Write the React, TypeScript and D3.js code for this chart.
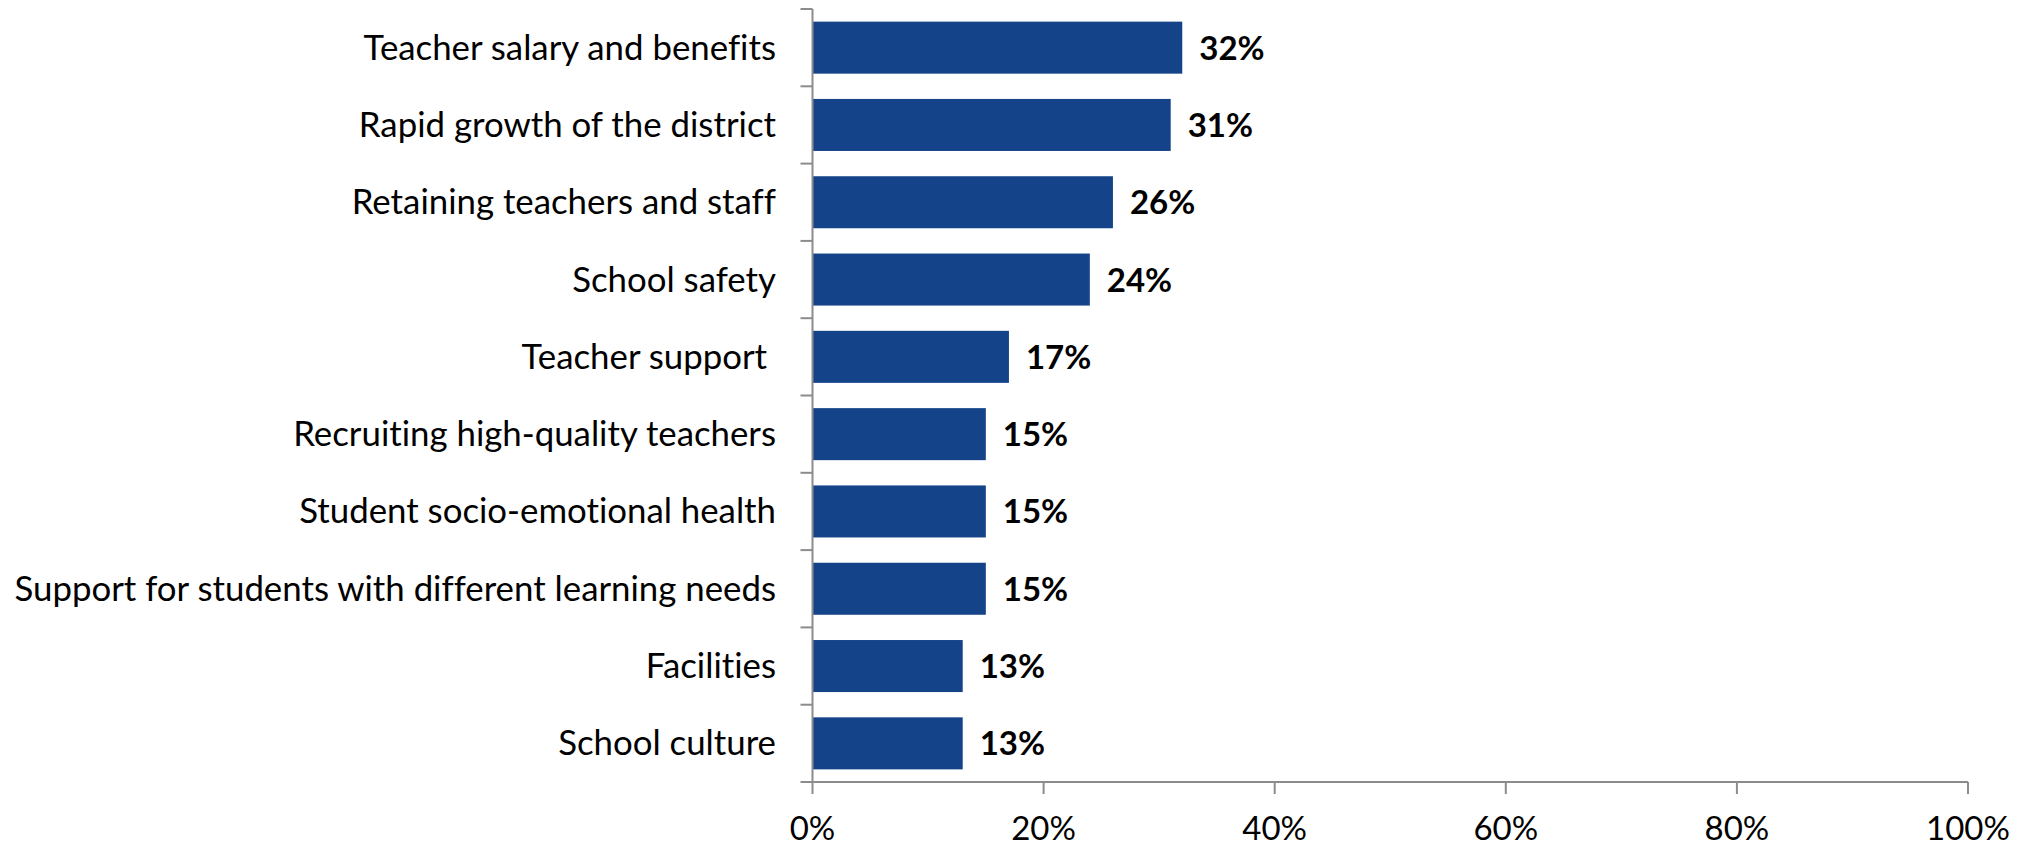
import React from "react";
import * as d3 from "d3";

const categories = [
  "Teacher salary and benefits",
  "Rapid growth of the district",
  "Retaining teachers and staff",
  "School safety",
  "Teacher support ",
  "Recruiting high-quality teachers",
  "Student socio-emotional health",
  "Support for students with different learning needs",
  "Facilities",
  "School culture",
];
const values = [32, 31, 26, 24, 17, 15, 15, 15, 13, 13];
const xTicks = [0, 20, 40, 60, 80, 100];

const W = 2028;
const H = 846;
const left = 812.5;
const right = 1968;
const top = 9;
const bottom = 782;
const FONT = "Lato, 'Liberation Sans', sans-serif";
const BAR = "#144389";
const AXIS = "#8c8c8c";

export default function App() {
  const x = d3.scaleLinear().domain([0, 100]).range([left, right]);
  const y = d3
    .scaleBand<string>()
    .domain(categories)
    .range([top, bottom])
    .paddingInner(0.327)
    .paddingOuter(0.1635);
  const step = y.step();
  const bounds = d3.range(categories.length + 1).map((i) => top + i * step);

  return (
    <svg
      width={W}
      height={H}
      style={{ position: "absolute", left: 0, top: 0, background: "#fff", fontVariantLigatures: "none" }}
      fontFamily={FONT}
    >
      {categories.map((c, i) => (
        <rect
          key={c}
          x={x(0)}
          y={y(c)!}
          width={x(values[i]) - x(0)}
          height={y.bandwidth()}
          fill={BAR}
        />
      ))}
      <line x1={left} x2={left} y1={top} y2={bottom} stroke={AXIS} strokeWidth={2} />
      <line x1={left} x2={right} y1={bottom} y2={bottom} stroke={AXIS} strokeWidth={2} />
      {bounds.map((b, i) => (
        <line key={"yt" + i} x1={left - 12} x2={left} y1={b} y2={b} stroke={AXIS} strokeWidth={2} />
      ))}
      {xTicks.map((t) => (
        <g key={"xt" + t}>
          <line x1={x(t)} x2={x(t)} y1={bottom} y2={bottom + 12} stroke={AXIS} strokeWidth={2} />
          <text x={x(t)} y={bottom + 58} textAnchor="middle" fontSize={33} fill="#000">
            {t + "%"}
          </text>
        </g>
      ))}
      {categories.map((c, i) => (
        <text
          key={"l" + c}
          x={776}
          y={y(c)! + y.bandwidth() / 2 + 12}
          textAnchor="end"
          fontSize={34.8}
          fill="#000"
          style={{ whiteSpace: "pre" }}
        >
          {c}
        </text>
      ))}
      {categories.map((c, i) => (
        <text
          key={"v" + c}
          x={x(values[i]) + 17}
          y={y(c)! + y.bandwidth() / 2 + 12}
          fontSize={33}
          fontWeight="bold"
          fill="#000"
        >
          {values[i] + "%"}
        </text>
      ))}
    </svg>
  );
}
